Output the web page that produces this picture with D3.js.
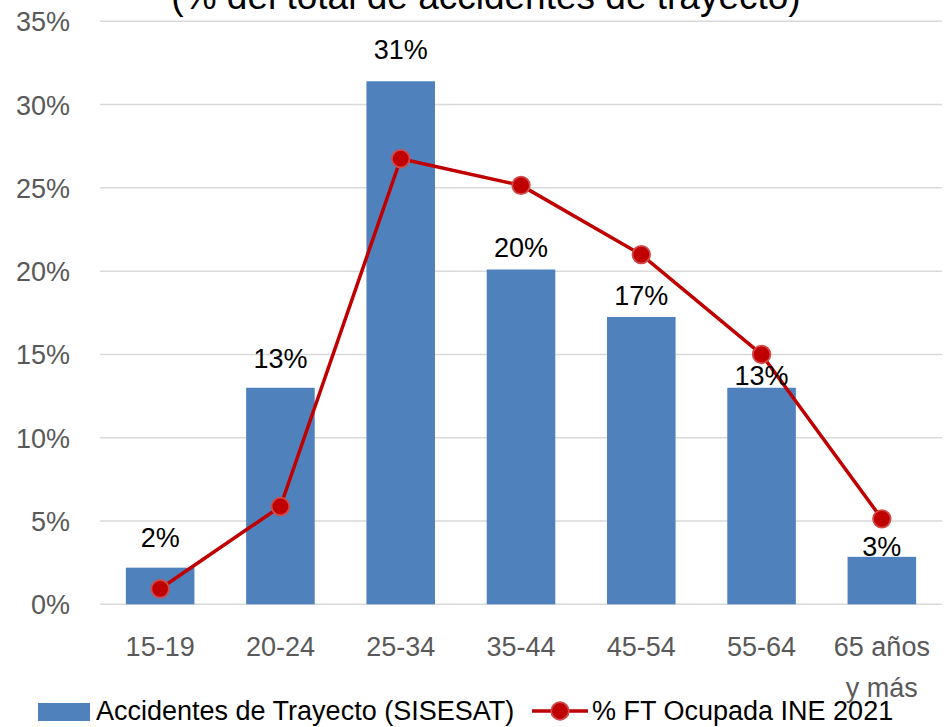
<!DOCTYPE html>
<html>
<head>
<meta charset="utf-8">
<script src="https://cdn.jsdelivr.net/npm/d3@7"></script>
<style>
  html, body { margin: 0; padding: 0; background: #fff; }
  svg text { font-family: "Liberation Sans", Arial, sans-serif; }
</style>
</head>
<body>
<svg id="chart" width="949" height="727"></svg>
<script>
// ---- data ----
const categories = ["15-19", "20-24", "25-34", "35-44", "45-54", "55-64", "65 años\ny más"];
const accidentes = [2.2, 13.0, 31.4, 20.1, 17.25, 13.0, 2.85];      // % Accidentes de Trayecto (SISESAT)
const ocupada    = [0.93, 5.87, 26.75, 25.15, 20.99, 15.0, 5.13];    // % FT Ocupada INE 2021
const yTicks     = [0, 5, 10, 15, 20, 25, 30, 35];
const seriesNames = ["Accidentes de Trayecto (SISESAT)", "% FT Ocupada INE 2021"];
const titleText = "(% del total de accidentes de trayecto)";
const labelOffsets = [21, 20, 22, 12, 12, 3, 1]; // px between label baseline and bar top

// ---- layout ----
const svg = d3.select("#chart");
const plotLeft = 100, plotRight = 942, plotTop = 21.3, plotBottom = 604.3;
const barColor = "#4f81bd", lineColor = "#c00000";

const x = d3.scaleBand().domain(categories).range([plotLeft, plotRight])
  .paddingInner(0.43).paddingOuter(0.215);
const y = d3.scaleLinear().domain([0, 35]).range([plotBottom, plotTop]);

// title (clipped at the top)
svg.append("text").attr("x", 486).attr("y", 9).attr("text-anchor", "middle")
  .attr("font-size", 37).attr("fill", "#000").text(titleText);

// gridlines
svg.append("g").selectAll("line").data(yTicks).join("line")
  .attr("x1", plotLeft).attr("x2", plotRight)
  .attr("y1", d => y(d)).attr("y2", d => y(d))
  .attr("stroke", "#d9d9d9").attr("stroke-width", 1.5);

// y axis labels
const yAxis = svg.append("g").attr("transform", `translate(${plotLeft - 30},0)`)
  .call(d3.axisLeft(y).tickValues(yTicks).tickSize(0).tickPadding(0).tickFormat(d => d + "%"));
yAxis.select(".domain").remove();
yAxis.selectAll("text").attr("font-size", 27).attr("fill", "#595959")
  .attr("font-family", "Liberation Sans, Arial, sans-serif").attr("dy", "0.35em");

// x axis labels
const xAxis = svg.append("g").attr("transform", `translate(0,${plotBottom})`)
  .call(d3.axisBottom(x).tickSize(0).tickPadding(0));
xAxis.select(".domain").remove();
xAxis.selectAll("text").attr("font-size", 27).attr("fill", "#595959")
  .attr("font-family", "Liberation Sans, Arial, sans-serif")
  .attr("y", 52).attr("dy", 0)
  .each(function(d) {
    const t = d3.select(this);
    const parts = d.split("\n");
    t.text(null);
    parts.forEach((p, i) => {
      t.append("tspan").attr("x", 0).attr("dy", i === 0 ? 0 : 41).text(p);
    });
  });

// bars
svg.append("g").selectAll("rect").data(accidentes).join("rect")
  .attr("x", (d, i) => x(categories[i]))
  .attr("width", x.bandwidth())
  .attr("y", d => y(d))
  .attr("height", d => y(0) - y(d))
  .attr("fill", barColor);

// line
const cx = i => x(categories[i]) + x.bandwidth() / 2;
svg.append("path").datum(ocupada)
  .attr("d", d3.line().x((d, i) => cx(i)).y(d => y(d)))
  .attr("fill", "none").attr("stroke", lineColor).attr("stroke-width", 3.5)
  .attr("stroke-linejoin", "round");
svg.append("g").selectAll("circle").data(ocupada).join("circle")
  .attr("cx", (d, i) => cx(i)).attr("cy", d => y(d)).attr("r", 8.8)
  .attr("fill", lineColor).attr("stroke", "#d24a4a").attr("stroke-width", 1.8);

// data labels
const fmt = d3.format(".0f");
svg.append("g").selectAll("text").data(accidentes).join("text")
  .attr("x", (d, i) => cx(i))
  .attr("y", (d, i) => y(d) - labelOffsets[i])
  .attr("text-anchor", "middle").attr("font-size", 27).attr("fill", "#000")
  .text(d => fmt(d) + "%");

// legend
const lg = svg.append("g");
lg.append("rect").attr("x", 38).attr("y", 703).attr("width", 52).attr("height", 18).attr("fill", barColor);
lg.append("text").attr("x", 96).attr("y", 720).attr("font-size", 27).attr("fill", "#000").text(seriesNames[0]);
lg.append("line").attr("x1", 532).attr("x2", 588).attr("y1", 711).attr("y2", 711)
  .attr("stroke", lineColor).attr("stroke-width", 3.5);
lg.append("circle").attr("cx", 560).attr("cy", 711).attr("r", 8.8)
  .attr("fill", lineColor).attr("stroke", "#d24a4a").attr("stroke-width", 1.8);
lg.append("text").attr("x", 592).attr("y", 720).attr("font-size", 27).attr("fill", "#000").text(seriesNames[1]);
</script>
</body>
</html>
